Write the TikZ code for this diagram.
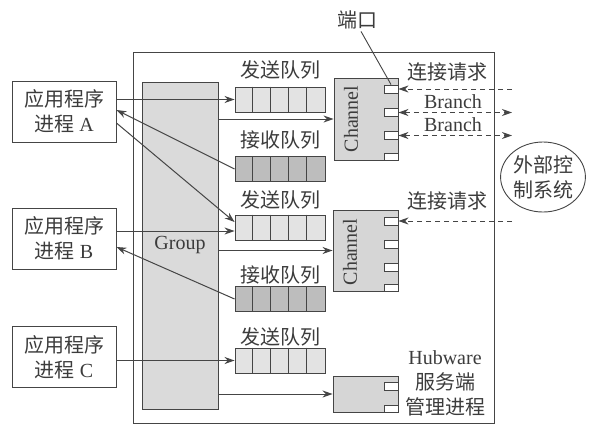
\documentclass[tikz,border=0pt]{standalone}
\usepackage{fontspec}
\setmainfont{Liberation Serif}
\newfontfamily\cjk{Noto Sans CJK SC}
\usetikzlibrary{arrows.meta,shapes.geometric,calc}
\definecolor{ln}{HTML}{454545}
\definecolor{tx}{HTML}{3C3C3C}
\definecolor{grp}{HTML}{DADADA}
\definecolor{chf}{HTML}{D6D6D6}
\definecolor{sendf}{HTML}{E3E3E3}
\definecolor{recvf}{HTML}{BDBDBD}
\begin{document}
\begin{tikzpicture}[x=1pt,y=-1pt,
  every node/.style={text=tx},
  appbox/.style={draw=ln, line width=0.9pt, fill=white, minimum width=104pt, minimum height=61pt, inner sep=0pt, align=center, font=\fontsize{20}{25}\selectfont},
  queue/.style={draw=ln, line width=0.9pt, minimum width=90pt, minimum height=25pt, inner sep=0pt},
  chbox/.style={draw=ln, line width=0.9pt, fill=chf, inner sep=0pt},
  portbox/.style={draw=ln, line width=0.8pt, fill=white, minimum width=14pt, minimum height=8pt, inner sep=0pt},
  cjklabel/.style={font=\cjk\fontsize{20}{25}\selectfont, inner sep=0pt, align=center},
  latlabel/.style={font=\fontsize{20}{25}\selectfont, inner sep=0pt},
  arr/.style={draw=ln, line width=1pt, -{Stealth[length=10pt,width=7pt]}},
  dashline/.style={draw=ln, line width=0.9pt, dash pattern=on 5pt off 4pt}
]
\useasboundingbox (0,0) rectangle (595,426);
\fill[white] (0,0) rectangle (595,426);

% outer frame and group
\node[draw=ln, line width=0.9pt, minimum width=361pt, minimum height=371pt, inner sep=0pt] (outer) at (313.5,237.5) {};
\node[draw=ln, line width=0.9pt, fill=grp, minimum width=76pt, minimum height=327pt, inner sep=0pt, font=\fontsize{20}{24}\selectfont] (G) at (180,245.5) {Group};

% application processes
\node[appbox] (A) at (64,111.5) {{\cjk 应用程序}\\{\cjk 进程} A};
\node[appbox] (B) at (64,238.5) {{\cjk 应用程序}\\{\cjk 进程} B};
\node[appbox] (C) at (64,357) {{\cjk 应用程序}\\{\cjk 进程} C};

% queues
\node[queue, fill=sendf] (sq1) at (280,99.5) {};
\node[queue, fill=recvf] (rq1) at (280,169) {};
\node[queue, fill=sendf] (sq2) at (280,227.5) {};
\node[queue, fill=recvf] (rq2) at (280,299) {};
\node[queue, fill=sendf] (sq3) at (280,360.5) {};
\foreach \q in {sq1,rq1,sq2,rq2,sq3}{
  \foreach \i in {1,...,4}{
    \draw[ln, line width=0.9pt] ($(\q.north west)+(18*\i,0)$) -- ($(\q.south west)+(18*\i,0)$);
  }
}
\node[cjklabel] (lsq1) at (280,70) {发送队列};
\node[cjklabel] (lrq1) at (280,140) {接收队列};
\node[cjklabel] (lsq2) at (280,200) {发送队列};
\node[cjklabel] (lrq2) at (280,275) {接收队列};
\node[cjklabel] (lsq3) at (280,337) {发送队列};

% channels
\node[chbox, minimum width=64pt, minimum height=82pt] (ch1) at (366,119) {};
\node[chbox, minimum width=65pt, minimum height=81pt] (ch2) at (365.5,250.5) {};
\node[chbox, minimum width=65pt, minimum height=36pt] (hub) at (365.5,394) {};
\node[latlabel, rotate=90] (tch1) at (351,119) {Channel};
\node[latlabel, rotate=90] (tch2) at (350,252) {Channel};

% ports
\node[portbox, anchor=east] (p11) at (ch1.east |- 0,89) {};
\node[portbox, anchor=east] (p12) at (ch1.east |- 0,112.5) {};
\node[portbox, anchor=east] (p13) at (ch1.east |- 0,135.5) {};
\node[portbox, anchor=south east, minimum height=7pt] (p14) at (ch1.south east) {};
\node[portbox, anchor=east] (p21) at (ch2.east |- 0,221) {};
\node[portbox, anchor=east] (p22) at (ch2.east |- 0,244) {};
\node[portbox, anchor=east] (p23) at (ch2.east |- 0,267.5) {};
\node[portbox, anchor=south east, minimum height=7pt] (p24) at (ch2.south east) {};
\node[portbox, anchor=east] (p31) at (hub.east |- 0,386) {};
\node[portbox, anchor=south east, minimum height=7pt] (p32) at (hub.south east) {};

% labels
\node[cjklabel] (port) at (357,20) {端口};
\draw[ln, line width=0.9pt] ([xshift=4pt,yshift=-2pt]port.south) -- (p11.north);
\node[cjklabel] (req1) at (447,72) {连接请求};
\node[cjklabel] (req2) at (447,201) {连接请求};
\node[latlabel] (br1) at (453,102) {Branch};
\node[latlabel] (br2) at (453,125) {Branch};
\node[cjklabel] (hubt) at (445,383) {{\rmfamily\fontsize{20}{25}\selectfont Hubware}\\服务端\\管理进程};
\node[draw=ln, line width=0.9pt, ellipse, minimum width=80pt, minimum height=70pt, inner sep=0pt, cjklabel] (ext) at (543,177) {外部控\\制系统};

% dashed connectors
\coordinate (e1) at (512,89);
\coordinate (e2) at (512,112.5);
\coordinate (e3) at (512,135.5);
\coordinate (e4) at (512,221);
\draw[dashline, -{Stealth[length=10pt,width=7pt]}] (e1) -- (p11.east);
\draw[dashline, {Stealth[length=10pt,width=7pt]}-{Stealth[length=10pt,width=7pt]}] (p12.east) -- (e2);
\draw[dashline, {Stealth[length=10pt,width=7pt]}-{Stealth[length=10pt,width=7pt]}] (p13.east) -- (e3);
\draw[dashline, -{Stealth[length=10pt,width=7pt]}] (e4) -- (p21.east);

% app <-> queue arrows
\draw[arr] (A.east |- sq1.west) -- (sq1.west);
\draw[arr] (rq1.west) -- ([yshift=1.5pt]A.east);
\draw[arr] ([yshift=-11.5pt]A.east) -- ([yshift=5.5pt]sq2.west);
\coordinate (b1) at ([yshift=-3.5pt]sq2.west);
\draw[arr] (B.east |- b1) -- (b1);
\draw[arr] (rq2.west) -- ([yshift=-8.5pt]B.east);
\draw[arr] (C.east |- sq3.west) -- (sq3.west);

% group -> channel arrows
\draw[arr] (G.east |- ch1.west) -- (ch1.west);
\draw[arr] (G.east |- ch2.west) -- (ch2.west);
\draw[arr] (G.east |- hub.west) -- (hub.west);
\end{tikzpicture}
\end{document}
